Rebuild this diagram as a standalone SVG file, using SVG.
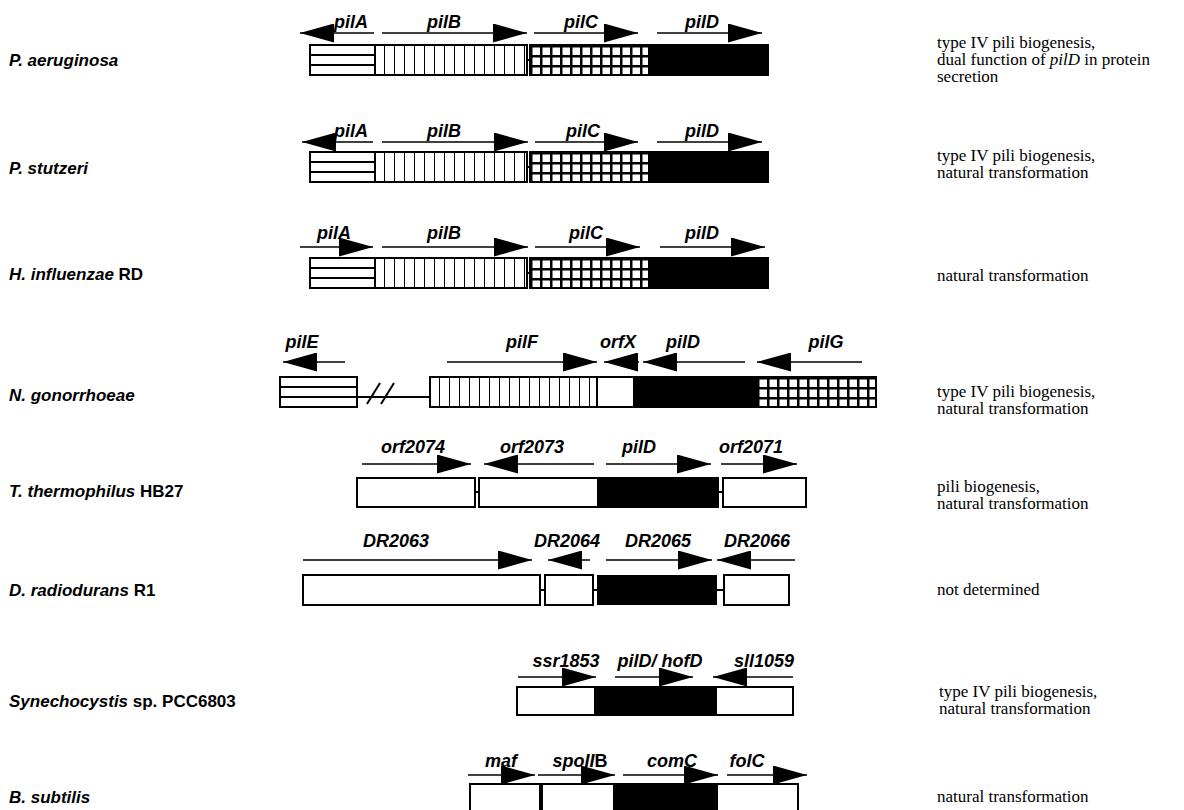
<svg xmlns="http://www.w3.org/2000/svg" width="1184" height="810" viewBox="0 0 1184 810">
<style>
.g{font-family:"Liberation Sans",Arial,sans-serif;font-weight:bold;font-style:italic;font-size:18px;text-anchor:middle;fill:#000}
.sp{font-family:"Liberation Sans",Arial,sans-serif;font-weight:bold;font-style:italic;font-size:17px;fill:#000}
.up{font-style:normal}
.rt{font-family:"Liberation Serif","Times New Roman",serif;font-size:17px;fill:#000}
.ar{stroke:#000;stroke-width:1.5;fill:none;marker-end:url(#ah)}
.bx{fill:none;stroke:#000;stroke-width:2}
.ln{stroke:#000;stroke-width:2;fill:none}
</style>
<defs>
<marker id="ah" markerUnits="userSpaceOnUse" markerWidth="34" markerHeight="19" refX="34" refY="9.5" orient="auto"><path d="M0,0 L34,9.5 L0,19 Z" fill="#000"/></marker>
<pattern id="hs" patternUnits="userSpaceOnUse" width="20" height="30"><rect width="20" height="30" fill="#fff"/><rect y="9" width="20" height="2" fill="#000"/><rect y="19" width="20" height="2" fill="#000"/></pattern>
<pattern id="vs" patternUnits="userSpaceOnUse" width="10" height="40"><rect width="10" height="40" fill="#fff"/><rect x="9" width="2" height="40" fill="#000"/></pattern>
<pattern id="grid" patternUnits="userSpaceOnUse" width="10" height="10"><rect width="10" height="10" fill="#000"/><rect x="2.5" y="2.5" width="7.5" height="7.5" fill="#fff"/></pattern>
</defs>
<rect width="1184" height="810" fill="#fff"/>

<!-- Row 1 P. aeruginosa -->
<g id="row-p-aeruginosa">
<text class="sp" x="9" y="66">P. aeruginosa</text>
<g transform="translate(310,45)"><rect width="65" height="30" fill="url(#hs)"/></g>
<g transform="translate(375,45)"><rect width="152" height="30" fill="url(#vs)"/></g>
<rect class="bx" x="310" y="45" width="217" height="30"/>
<line class="ln" x1="375" y1="45" x2="375" y2="75"/>
<line class="ln" x1="527" y1="60" x2="530" y2="60"/>
<g transform="translate(530,45)"><rect width="118" height="30" fill="url(#grid)"/></g>
<rect x="648" y="45" width="120" height="30" fill="#000"/>
<rect class="bx" x="530" y="45" width="238" height="30"/>
<g id="arrows-1">
<line class="ar" x1="374" y1="33" x2="300" y2="33"/>
<line class="ar" x1="382" y1="33" x2="527" y2="33"/>
<line class="ar" x1="534" y1="33" x2="638" y2="33"/>
<line class="ar" x1="657" y1="33" x2="762" y2="33"/>
</g>
<text class="g" x="351" y="28">pilA</text>
<text class="g" x="444" y="28">pilB</text>
<text class="g" x="581" y="28">pilC</text>
<text class="g" x="702" y="28">pilD</text>
<text class="rt" x="937" y="48">type IV pili biogenesis,</text>
<text class="rt" x="937" y="65">dual function of <tspan font-style="italic">pilD</tspan> in protein</text>
<text class="rt" x="937" y="82">secretion</text>
</g>

<!-- Row 2 P. stutzeri -->
<g id="row-p-stutzeri">
<text class="sp" x="9" y="174">P. stutzeri</text>
<g transform="translate(310,152)"><rect width="65" height="30" fill="url(#hs)"/></g>
<g transform="translate(375,152)"><rect width="152" height="30" fill="url(#vs)"/></g>
<rect class="bx" x="310" y="152" width="217" height="30"/>
<line class="ln" x1="375" y1="152" x2="375" y2="182"/>
<line class="ln" x1="527" y1="167" x2="530" y2="167"/>
<g transform="translate(530,152)"><rect width="118" height="30" fill="url(#grid)"/></g>
<rect x="648" y="152" width="120" height="30" fill="#000"/>
<rect class="bx" x="530" y="152" width="238" height="30"/>
<g id="arrows-2">
<line class="ar" x1="373" y1="142" x2="302" y2="142"/>
<line class="ar" x1="382" y1="142" x2="528" y2="142"/>
<line class="ar" x1="535" y1="142" x2="638" y2="142"/>
<line class="ar" x1="657" y1="142" x2="762" y2="142"/>
</g>
<text class="g" x="351" y="137">pilA</text>
<text class="g" x="444" y="137">pilB</text>
<text class="g" x="583" y="137">pilC</text>
<text class="g" x="702" y="137">pilD</text>
<text class="rt" x="937" y="161">type IV pili biogenesis,</text>
<text class="rt" x="937" y="178">natural transformation</text>
</g>

<!-- Row 3 H. influenzae RD -->
<g id="row-h-influenzae">
<text class="sp" x="9" y="280">H. influenzae <tspan class="up">RD</tspan></text>
<g transform="translate(310,258)"><rect width="65" height="30" fill="url(#hs)"/></g>
<g transform="translate(375,258)"><rect width="152" height="30" fill="url(#vs)"/></g>
<rect class="bx" x="310" y="258" width="217" height="30"/>
<line class="ln" x1="375" y1="258" x2="375" y2="288"/>
<line class="ln" x1="527" y1="273" x2="530" y2="273"/>
<g transform="translate(530,258)"><rect width="118" height="30" fill="url(#grid)"/></g>
<rect x="648" y="258" width="120" height="30" fill="#000"/>
<rect class="bx" x="530" y="258" width="238" height="30"/>
<g id="arrows-3">
<line class="ar" x1="300" y1="247" x2="373" y2="247"/>
<line class="ar" x1="382" y1="247" x2="528" y2="247"/>
<line class="ar" x1="535" y1="247" x2="640" y2="247"/>
<line class="ar" x1="660" y1="247" x2="765" y2="247"/>
</g>
<text class="g" x="334" y="239">pilA</text>
<text class="g" x="444" y="239">pilB</text>
<text class="g" x="586" y="239">pilC</text>
<text class="g" x="702" y="239">pilD</text>
<text class="rt" x="937" y="281">natural transformation</text>
</g>

<!-- Row 4 N. gonorrhoeae -->
<g id="row-n-gonorrhoeae">
<text class="sp" x="9" y="401">N. gonorrhoeae</text>
<g transform="translate(280,377)"><rect width="77" height="30" fill="url(#hs)"/></g>
<rect class="bx" x="280" y="377" width="77" height="30"/>
<line class="ln" x1="357" y1="397" x2="430" y2="397"/>
<line class="ln" x1="367" y1="404" x2="380" y2="383"/>
<line class="ln" x1="381" y1="404" x2="394" y2="383"/>
<g transform="translate(430,377)"><rect width="167" height="30" fill="url(#vs)"/></g>
<rect x="597" y="377" width="36" height="30" fill="#fff"/>
<rect x="633" y="377" width="122" height="30" fill="#000"/>
<rect class="bx" x="430" y="377" width="325" height="30"/>
<line class="ln" x1="597" y1="377" x2="597" y2="407"/>
<g transform="translate(757,377)"><rect width="119" height="30" fill="url(#grid)"/></g>
<rect class="bx" x="757" y="377" width="119" height="30"/>
<g id="arrows-4">
<line class="ar" x1="345" y1="362" x2="283" y2="362"/>
<line class="ar" x1="447" y1="362" x2="597" y2="362"/>
<line class="ar" x1="639" y1="362" x2="604" y2="362"/>
<line class="ar" x1="745" y1="362" x2="643" y2="362"/>
<line class="ar" x1="862" y1="362" x2="757" y2="362"/>
</g>
<text class="g" x="302" y="348">pilE</text>
<text class="g" x="522" y="348">pilF</text>
<text class="g" x="618" y="348">orfX</text>
<text class="g" x="683" y="348">pilD</text>
<text class="g" x="826" y="348">pilG</text>
<text class="rt" x="937" y="397">type IV pili biogenesis,</text>
<text class="rt" x="937" y="414">natural transformation</text>
</g>

<!-- Row 5 T. thermophilus HB27 -->
<g id="row-t-thermophilus">
<text class="sp" x="9" y="497">T. thermophilus  <tspan class="up">HB27</tspan></text>
<rect class="bx" x="357" y="478" width="118" height="29" fill="#fff"/>
<line class="ln" x1="475" y1="492" x2="479" y2="492"/>
<rect x="597" y="478" width="121" height="29" fill="#000"/>
<rect class="bx" x="479" y="478" width="239" height="29"/>
<line class="ln" x1="718" y1="492" x2="723" y2="492"/>
<rect class="bx" x="723" y="478" width="83" height="29"/>
<g id="arrows-5">
<line class="ar" x1="362" y1="464" x2="471" y2="464"/>
<line class="ar" x1="594" y1="464" x2="484" y2="464"/>
<line class="ar" x1="606" y1="464" x2="711" y2="464"/>
<line class="ar" x1="721" y1="464" x2="797" y2="464"/>
</g>
<text class="g" x="413" y="453">orf2074</text>
<text class="g" x="532" y="453">orf2073</text>
<text class="g" x="639" y="453">pilD</text>
<text class="g" x="751" y="453">orf2071</text>
<text class="rt" x="937" y="492">pili biogenesis,</text>
<text class="rt" x="937" y="509">natural transformation</text>
</g>

<!-- Row 6 D. radiodurans R1 -->
<g id="row-d-radiodurans">
<text class="sp" x="9" y="596">D. radiodurans  <tspan class="up">R1</tspan></text>
<rect class="bx" x="303" y="575" width="237" height="30"/>
<line class="ln" x1="540" y1="590" x2="545" y2="590"/>
<rect class="bx" x="545" y="575" width="48" height="30"/>
<line class="ln" x1="593" y1="590" x2="597" y2="590"/>
<rect x="597" y="575" width="120" height="30" fill="#000"/>
<line class="ln" x1="717" y1="590" x2="724" y2="590"/>
<rect class="bx" x="724" y="575" width="65" height="30"/>
<g id="arrows-6">
<line class="ar" x1="303" y1="560" x2="532" y2="560"/>
<line class="ar" x1="590" y1="560" x2="548" y2="560"/>
<line class="ar" x1="606" y1="560" x2="712" y2="560"/>
<line class="ar" x1="795" y1="560" x2="717" y2="560"/>
</g>
<text class="g" x="396" y="547">DR2063</text>
<text class="g" x="567" y="547">DR2064</text>
<text class="g" x="658" y="547">DR2065</text>
<text class="g" x="757" y="547">DR2066</text>
<text class="rt" x="937" y="595">not determined</text>
</g>

<!-- Row 7 Synechocystis sp. PCC6803 -->
<g id="row-synechocystis">
<text class="sp" x="9" y="707">Synechocystis <tspan class="up">sp. PCC6803</tspan></text>
<rect class="bx" x="517" y="687" width="78" height="28"/>
<line class="ln" x1="595" y1="701" x2="597" y2="701"/>
<rect x="597" y="687" width="120" height="28" fill="#000"/>
<rect class="bx" x="597" y="687" width="196" height="28"/>
<g id="arrows-7">
<line class="ar" x1="518" y1="677" x2="596" y2="677"/>
<line class="ar" x1="615" y1="677" x2="693" y2="677"/>
<line class="ar" x1="793" y1="677" x2="713" y2="677"/>
</g>
<text class="g" x="566" y="667">ssr1853</text>
<text class="g" x="660" y="667">pilD/ hofD</text>
<text class="g" x="764" y="667">sll1059</text>
<text class="rt" x="939" y="697">type IV pili biogenesis,</text>
<text class="rt" x="939" y="714">natural transformation</text>
</g>

<!-- Row 8 B. subtilis -->
<g id="row-b-subtilis">
<text class="sp" x="9" y="803">B. subtilis</text>
<rect class="bx" x="470" y="784" width="70" height="30"/>
<rect x="613" y="784" width="105" height="30" fill="#000"/>
<rect class="bx" x="542" y="784" width="256" height="30"/>
<g id="arrows-8">
<line class="ar" x1="468" y1="775" x2="535" y2="775"/>
<line class="ar" x1="538" y1="775" x2="615" y2="775"/>
<line class="ar" x1="623" y1="775" x2="718" y2="775"/>
<line class="ar" x1="727" y1="775" x2="807" y2="775"/>
</g>
<text class="g" x="501" y="767">maf</text>
<text class="g" x="580" y="767">spoII<tspan class="up">B</tspan></text>
<text class="g" x="672" y="767">comC</text>
<text class="g" x="747" y="767">folC</text>
<text class="rt" x="937" y="802">natural transformation</text>
</g>
</svg>
